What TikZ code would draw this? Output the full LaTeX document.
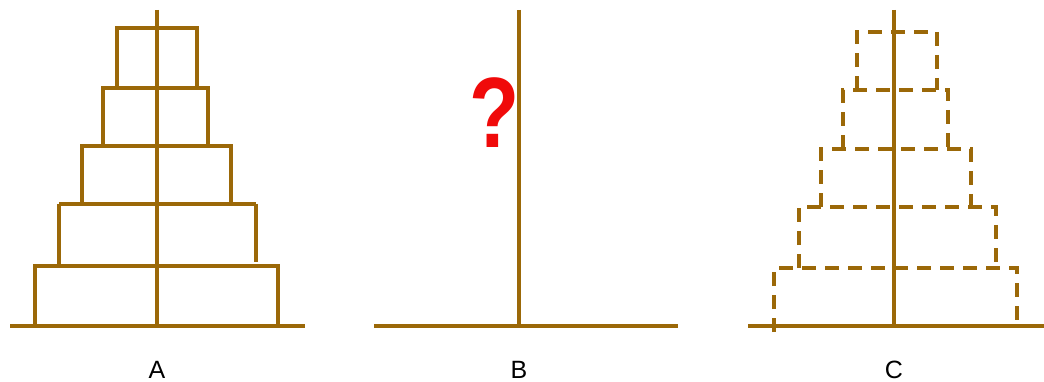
\documentclass[tikz,border=0pt]{standalone}
\usepackage{fontspec}
\setmainfont{Liberation Sans}
\definecolor{rod}{RGB}{155,104,8}
\definecolor{qred}{RGB}{240,10,10}
\begin{document}
\begin{tikzpicture}[x=1pt,y=-1pt,
  rodline/.style={draw=rod,line width=3.6pt},
  disc/.style={draw=rod,line width=3.6pt},
  ghost/.style={draw=rod,line width=3.6pt,dash pattern=on 14pt off 9pt},
  lbl/.style={font=\fontsize{25}{25}\selectfont,text=black,inner sep=0pt}]
\useasboundingbox (0,0) rectangle (1044,382);
% Peg A
\draw[disc] (117,28) rectangle (197,88);
\draw[disc] (103,88) rectangle (208,146);
\draw[disc] (82,146) rectangle (231,204);
\draw[disc] (59,204) -- (59,266) (256,204) -- (256,262) (59,204) -- (256,204);
\draw[disc] (35,266) rectangle (278,326);
\draw[rodline] (157,10) -- (157,326);
\draw[rodline] (10,326) -- (305,326);
\node[lbl] (la) at (157,370) {A};
% Peg B
\draw[rodline] (519,10) -- (519,326);
\draw[rodline] (374,326) -- (678,326);
\node[inner sep=0pt,text=qred,font=\fontsize{100}{100}\selectfont\bfseries,xscale=0.82] (q) at (495,113) {?};
\node[lbl] (lb) at (519,370) {B};
% Peg C
\draw[ghost] (857,90) -- (857,32) -- (937,32) -- (937,90);
\draw[ghost] (843,149) -- (843,90) -- (948,90) -- (948,149);
\draw[ghost] (821,207) -- (821,149) -- (971,149) -- (971,207);
\draw[ghost] (799,268) -- (799,207) -- (996,207) -- (996,268);
\draw[ghost] (774,332) -- (774,268) -- (1017,268) -- (1017,326);
\draw[rodline] (894,10) -- (894,326);
\draw[rodline] (748,326) -- (1044,326);
\node[lbl] (lc) at (894,370) {C};
\end{tikzpicture}
\end{document}
